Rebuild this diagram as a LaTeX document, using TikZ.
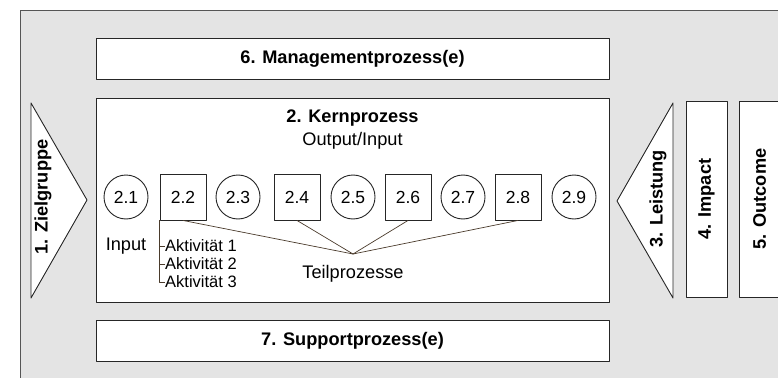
\documentclass[tikz,border=0pt]{standalone}
\usepackage{fontspec}
\setmainfont{Liberation Sans}
\usetikzlibrary{calc, positioning}

\definecolor{bggray}{HTML}{E4E4E4}
\definecolor{framegray}{HTML}{555555}
\definecolor{linkbrown}{HTML}{4A3B2C}

\tikzset{
  box/.style={draw=black!85, fill=white, line width=0.9pt},
  title/.style={font=\fontsize{18.2}{21}\selectfont\bfseries},
  plain/.style={font=\fontsize{18.2}{21}\selectfont},
  small/.style={font=\fontsize{16.5}{18.5}\selectfont, inner sep=0pt},
  phase/.style={box, circle, minimum size=44pt, inner sep=0pt,
    font=\fontsize{17.5}{20}\selectfont},
  stepsq/.style={box, rectangle, minimum size=46pt, inner sep=0pt,
    font=\fontsize{17.5}{20}\selectfont},
  link/.style={draw=linkbrown, line width=0.7pt},
}

\begin{document}
\begin{tikzpicture}[x=1pt, y=-1pt, line join=round]

  \useasboundingbox (0,0) rectangle (778,377);
  \clip (0,0) rectangle (778,377);

  % --- background frame ---
  \draw[framegray, fill=bggray, line width=1pt] (20,11) rectangle (820,420);

  % --- management / support ---
  \node[box, title, minimum width=513pt, minimum height=41pt] (mgmt)
    at (352.5,58.5) {6. Managementprozess(e)};
  \node[box, title, minimum width=513pt, minimum height=41pt] (supp)
    at (352.5,340.5) {7. Supportprozess(e)};

  % --- core process ---
  \node[box, minimum width=513pt, minimum height=204pt] (kern) at (352.5,200) {};
  \node[title] (kerntitle) at (352.5,118) {2. Kernprozess};
  \node[plain] (outin) at (352.5,141) {Output/Input};

  \foreach \k/\x in {1/126, 3/238, 5/353, 7/463, 9/574}
    \node[phase] (k\k) at (\x,197) {2.\k};
  \foreach \k/\x in {2/183, 4/297, 6/408, 8/518}
    \node[stepsq] (k\k) at (\x,197) {2.\k};

  \coordinate (tp) at (353,254);
  \foreach \k in {2,4,6,8}
    \draw[link] (k\k.south) -- (tp);
  \node[plain] (teil) at (353,274) {Teilprozesse};

  \node[plain] (input) at (126,246) {Input};
  \node[small, anchor=west] (a1) at (165,246) {Aktivität 1};
  \node[small, anchor=west] (a2) at (165,264) {Aktivität 2};
  \node[small, anchor=west] (a3) at (165,282) {Aktivität 3};
  \draw[link] (k2.south west) |- (a3.west);
  \draw[link] (a1.west -| k2.south west) -- (a1.west);
  \draw[link] (a2.west -| k2.south west) -- (a2.west);

  % --- left: target group ---
  \coordinate (zt) at (31,103);
  \coordinate (zb) at (31,298);
  \coordinate (zp) at (87,200);
  \draw[box] (zt) -- (zp) -- (zb) -- cycle;
  \node[title, rotate=90] (ziel) at (43,197) {1. Zielgruppe};

  % --- right: output, impact, outcome ---
  \coordinate (lt) at (673,103);
  \coordinate (lb) at (673,298);
  \coordinate (lp) at (617,201);
  \draw[box] (lt) -- (lp) -- (lb) -- cycle;
  \node[title, rotate=90] (leist) at (658,199) {3. Leistung};

  \node[box, title, rotate=90, minimum width=196pt, minimum height=41pt] (impact)
    at (706.5,199) {4. Impact};
  \node[box, title, rotate=90, minimum width=196pt, minimum height=41pt] (outcome)
    at (759.5,199) {5. Outcome};

\end{tikzpicture}
\end{document}
